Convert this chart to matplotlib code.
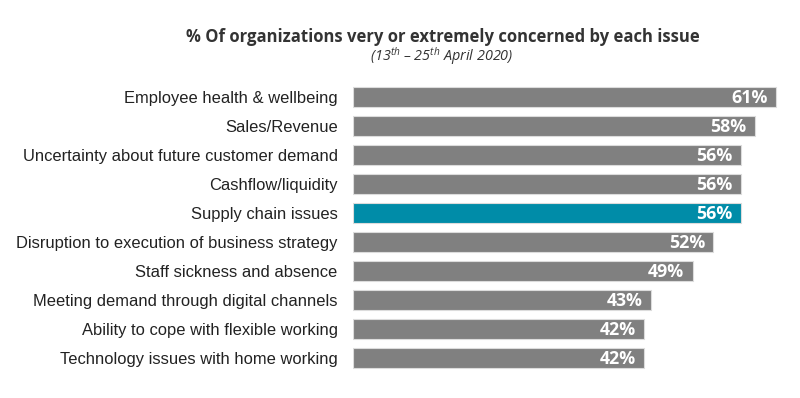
import matplotlib
matplotlib.use('Agg')
import matplotlib.pyplot as plt
import numpy as np

# data (top to bottom as shown)
issues = ['Employee health & wellbeing', 'Sales/Revenue',
          'Uncertainty about future customer demand', 'Cashflow/liquidity',
          'Supply chain issues', 'Disruption to execution of business strategy',
          'Staff sickness and absence', 'Meeting demand through digital channels',
          'Ability to cope with flexible working', 'Technology issues with home working']
pct = [61, 58, 56, 56, 56, 52, 49, 43, 42, 42]
highlight = 'Supply chain issues'

plt.rcParams['mathtext.fontset'] = 'custom'
plt.rcParams['mathtext.rm'] = 'Open Sans:italic'
plt.rcParams['mathtext.it'] = 'Open Sans:italic'

fig = plt.figure(figsize=(8, 3.98), dpi=100)
ax = fig.add_axes([353/800, 0.0641, 443.5/800, 0.7286])

colors = ['#008ca8' if s == highlight else '#808080' for s in issues]
y = np.arange(len(issues))
ax.barh(y, pct, height=0.66, color=colors, edgecolor='#dcdcdc', linewidth=0.8)
ax.set_xlim(0, 64)
ax.set_ylim(len(issues) - 0.5, -0.5)

for yi, v in zip(y, pct):
    ax.text(v - 1.2, yi + 0.03, f'{v}%', ha='right', va='center', color='white',
            fontsize=12.8, fontweight='bold', family='Open Sans')

ax.set_yticks(y)
ax.set_yticklabels(issues, fontsize=11.9, family='Liberation Sans', color='#222222')
ax.tick_params(axis='y', length=0, pad=11)
ax.set_xticks([])
for sp in ax.spines.values():
    sp.set_visible(False)

fig.text(443/800, 1 - 37/398, '% Of organizations very or extremely concerned by each issue',
         ha='center', va='center', fontsize=12, fontweight='bold', family='Open Sans',
         color='#333333')
fig.text(442/800, 1 - 56/398, r'(13$^{th}$ – 25$^{th}$ April 2020)',
         ha='center', va='center', fontsize=10.4, style='italic', family='Open Sans',
         color='#333333')

fig.savefig('out.png', dpi=100)
